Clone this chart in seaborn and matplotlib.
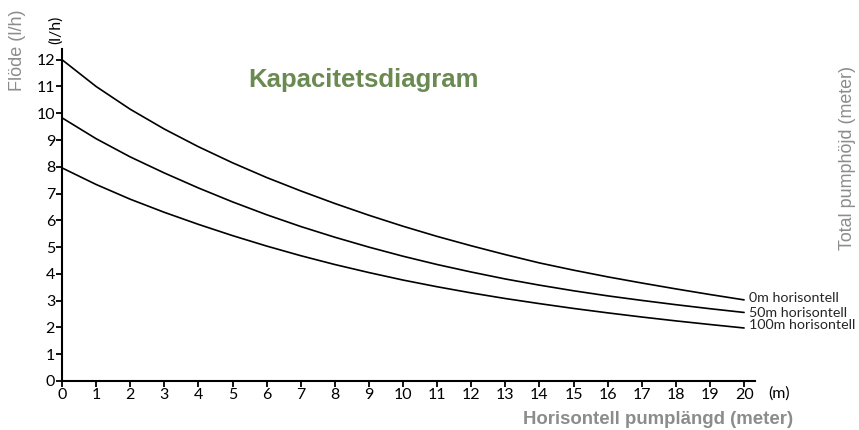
import numpy as np
import pandas as pd
import matplotlib
matplotlib.use("Agg")
import matplotlib.pyplot as plt
import seaborn as sns

# Horisontell pumplängd (m)
x_m = list(range(0, 21))

# Flöde (l/h) for each horizontal distance
flow_0m = [12.0, 11.0, 10.15, 9.41, 8.75, 8.15, 7.6, 7.1, 6.63, 6.19, 5.78,
           5.40, 5.05, 4.72, 4.41, 4.14, 3.89, 3.66, 3.44, 3.23, 3.03]
flow_50m = [9.83, 9.05, 8.37, 7.77, 7.21, 6.69, 6.21, 5.77, 5.37, 5.0, 4.66,
            4.35, 4.07, 3.81, 3.58, 3.37, 3.18, 3.01, 2.85, 2.70, 2.56]
flow_100m = [7.96, 7.34, 6.79, 6.30, 5.85, 5.43, 5.04, 4.68, 4.35, 4.05, 3.77,
             3.52, 3.29, 3.08, 2.89, 2.71, 2.545, 2.39, 2.245, 2.11, 1.98]

series_names = ["0m horisontell", "50m horisontell", "100m horisontell"]
label_y = [3.1, 2.54, 2.09]

x_ticks = list(range(0, 21))
y_ticks = list(range(0, 13))

df = pd.DataFrame({
    "x": x_m * 3,
    "flow": flow_0m + flow_50m + flow_100m,
    "serie": [series_names[0]] * len(x_m) + [series_names[1]] * len(x_m) + [series_names[2]] * len(x_m),
})

sns.set_theme(style="ticks")
plt.rcParams['font.family'] = ['Lato', 'DejaVu Sans']

W, H = 859, 430
fig = plt.figure(figsize=(W / 100, H / 100), dpi=100)
ax = fig.add_axes([62 / W, (H - 381) / H, (755 - 62) / W, (381 - 49) / H])

sns.lineplot(data=df, x="x", y="flow", hue="serie", palette=["black"] * 3,
             linewidth=1.2, legend=False, ax=ax)

ax.set_xlim(0, 20.32)
ax.set_ylim(0, 12.4)
ax.set_xticks(x_ticks)
ax.set_yticks(y_ticks)
ax.tick_params(axis="both", direction="out", length=4, width=1.3,
               labelsize=11.5, colors="black", pad=1)
for s in ["left", "bottom"]:
    ax.spines[s].set_linewidth(1.5)
    ax.spines[s].set_color("black")
sns.despine(ax=ax)
ax.set_xlabel("")
ax.set_ylabel("")

for name, yv in zip(series_names, label_y):
    ax.text(20.15, yv, name, fontsize=10.3, va="center", ha="left", clip_on=False)

gray = "#8c8c8c"
arial = ['Liberation Sans', 'DejaVu Sans']
fig.text(363 / W, 1 - 80 / H, "Kapacitetsdiagram", fontsize=18.5, fontweight="bold",
         color="#6a8a52", ha="center", va="center", family=arial)
fig.text(17 / W, 1 - 50 / H, "Flöde (l/h)", fontsize=13, color=gray, rotation=90,
         ha="center", va="center", family=arial)
fig.text(56 / W, 1 - 30 / H, "(l/h)", fontsize=11.5, color="black", rotation=90,
         ha="center", va="center")
fig.text(848 / W, 1 - 158 / H, "Total pumphöjd (meter)", fontsize=12.9, color=gray,
         rotation=90, ha="center", va="center", family=arial)
fig.text(779 / W, 1 - 394 / H, "(m)", fontsize=11.5, color="black",
         ha="center", va="center")
fig.text(793 / W, 1 - 420 / H, "Horisontell pumplängd (meter)", fontsize=13.4,
         fontweight="bold", color=gray, ha="right", va="center", family=arial)

fig.savefig("out.png", dpi=100)
